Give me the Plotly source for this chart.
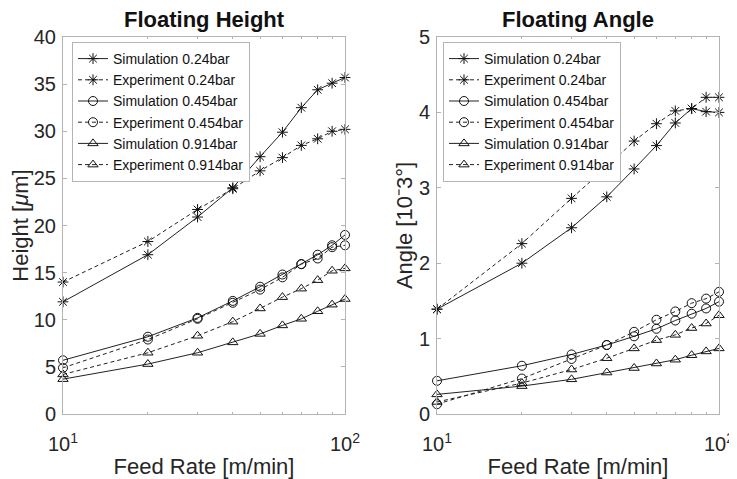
import plotly.graph_objects as go

feed = [10, 20, 30, 40, 50, 60, 70, 80, 90, 100]

height_sim_024 = [11.9, 16.9, 20.9, 24.0, 27.3, 29.9, 32.5, 34.4, 35.1, 35.7]
height_exp_024 = [14.0, 18.3, 21.7, 23.9, 25.8, 27.2, 28.5, 29.2, 30.0, 30.2]
height_sim_0454 = [5.7, 8.2, 10.2, 12.0, 13.5, 14.8, 15.9, 16.9, 17.9, 19.0]
height_exp_0454 = [4.9, 7.9, 10.1, 11.8, 13.2, 14.5, 15.9, 16.5, 17.7, 17.9]
height_sim_0914 = [3.7, 5.3, 6.5, 7.6, 8.5, 9.4, 10.1, 10.9, 11.6, 12.2]
height_exp_0914 = [4.2, 6.5, 8.3, 9.8, 11.2, 12.4, 13.3, 14.2, 15.2, 15.45]

angle_sim_024 = [1.39, 2.0, 2.47, 2.88, 3.25, 3.56, 3.86, 4.05, 4.01, 4.0]
angle_exp_024 = [1.39, 2.26, 2.86, 3.28, 3.62, 3.85, 4.02, 4.05, 4.2, 4.2]
angle_sim_0454 = [0.44, 0.64, 0.79, 0.915, 1.03, 1.13, 1.24, 1.33, 1.40, 1.49]
angle_exp_0454 = [0.13, 0.47, 0.73, 0.915, 1.09, 1.25, 1.36, 1.47, 1.53, 1.62]
angle_sim_0914 = [0.26, 0.37, 0.46, 0.55, 0.61, 0.67, 0.72, 0.78, 0.83, 0.87]
angle_exp_0914 = [0.16, 0.41, 0.59, 0.74, 0.87, 0.98, 1.05, 1.14, 1.2, 1.31]

series_names = ["Simulation 0.24bar", "Experiment 0.24bar",
                "Simulation 0.454bar", "Experiment 0.454bar",
                "Simulation 0.914bar", "Experiment 0.914bar"]
symbols = ["asterisk-open", "asterisk-open", "circle-open", "circle-open",
           "triangle-up-open", "triangle-up-open"]
dashes = ["solid", "4px,3px", "solid", "4px,3px", "solid", "4px,3px"]

height_data = [height_sim_024, height_exp_024, height_sim_0454,
               height_exp_0454, height_sim_0914, height_exp_0914]
angle_data = [angle_sim_024, angle_exp_024, angle_sim_0454,
              angle_exp_0454, angle_sim_0914, angle_exp_0914]

FONT = "Liberation Sans, Arial, Helvetica, sans-serif"
TXT = "#262626"
AX = "#b4b4b4"

fig = go.Figure()

for i in range(6):
    fig.add_trace(go.Scatter(
        x=feed, y=height_data[i], name=series_names[i], mode="lines+markers",
        line=dict(color="#222222", width=1, dash=dashes[i]),
        marker=dict(symbol=symbols[i], size=9, color="#111111",
                    line=dict(width=1, color="#111111")),
        cliponaxis=False, xaxis="x", yaxis="y", legend="legend"))

for i in range(6):
    fig.add_trace(go.Scatter(
        x=feed, y=angle_data[i], name=series_names[i], mode="lines+markers",
        line=dict(color="#222222", width=1, dash=dashes[i]),
        marker=dict(symbol=symbols[i], size=9, color="#111111",
                    line=dict(width=1, color="#111111")),
        cliponaxis=False, xaxis="x2", yaxis="y2", legend="legend2"))

# the page body adds an 8px offset; figure is sized so the page is 737x479
OFF = 8
W, H = 737 - OFF, 479 - OFF
# plot area in page pixels: x 63..719, y 37..414
ML, MT = 63 - OFF, 37 - OFF
MR = W - (719 - OFF)
MB = H - (414 - OFF)
PW = W - ML - MR
PH = H - MT - MB
xd1 = [0, (345 - 63) / PW]
xd2 = [(437 - 63) / PW, 1]

def xaxis_cfg(domain, anchor):
    return dict(
        type="log", domain=domain, anchor=anchor, range=[1, 2], automargin=False,
        tickvals=[10, 100], ticktext=["10<sup>1</sup>", "10<sup>2</sup>"],
        ticks="inside", ticklen=4, tickcolor=AX, showline=True, linecolor=AX,
        linewidth=1, mirror="ticks", showgrid=False, zeroline=False,
        ticklabelstandoff=12, ticklabeloverflow="allow",
        tickfont=dict(family=FONT, size=20, color=TXT),
        minor=dict(tickvals=[20, 30, 40, 50, 60, 70, 80, 90], ticks="inside",
                   ticklen=2, tickcolor=AX, showgrid=False),
        title=dict(text="Feed Rate [m/min]", font=dict(family=FONT, size=22, color=TXT),
                   standoff=11))

def yaxis_cfg(rng, dtick, anchor, title, standoff):
    return dict(
        domain=[0, 1], anchor=anchor, range=rng, dtick=dtick, tick0=0, automargin=False,
        ticks="inside", ticklen=4, tickcolor=AX, showline=True, linecolor=AX,
        linewidth=1, mirror="ticks", showgrid=False, zeroline=False,
        ticklabelstandoff=2, ticklabeloverflow="allow",
        tickfont=dict(family=FONT, size=20, color=TXT),
        title=dict(text=title, font=dict(family=FONT, size=22, color=TXT), standoff=standoff))

legend_common = dict(
    bgcolor="white", bordercolor="#b4b4b4", borderwidth=1,
    font=dict(family=FONT, size=14, color="#111111"),
    xanchor="left", yanchor="top", tracegroupgap=0, itemwidth=30)

title_y = 1 + (37 - 20) / PH

fig.update_layout(
    width=W, height=H,
    margin=dict(l=ML, r=MR, t=MT, b=MB, autoexpand=False),
    paper_bgcolor="white", plot_bgcolor="white",
    xaxis=xaxis_cfg(xd1, "y"),
    yaxis=yaxis_cfg([0, 40], 5, "x", "Height [<i>μ</i>m]", 0),
    xaxis2=xaxis_cfg(xd2, "y2"),
    yaxis2=yaxis_cfg([0, 5], 1, "x2", "Angle [10⁻3°]", 0),
    legend=dict(x=(72 - 63) / PW, y=1 - (42 - 37) / PH, **legend_common),
    legend2=dict(x=(443 - 63) / PW, y=1 - (42 - 37) / PH, **legend_common),
    annotations=[
        dict(text="<b>Floating Height</b>", x=(xd1[0] + xd1[1]) / 2, y=title_y,
             xref="paper", yref="paper", xanchor="center", yanchor="middle",
             showarrow=False, font=dict(family=FONT, size=22, color="#111111")),
        dict(text="<b>Floating Angle</b>", x=(xd2[0] + xd2[1]) / 2, y=title_y,
             xref="paper", yref="paper", xanchor="center", yanchor="middle",
             showarrow=False, font=dict(family=FONT, size=22, color="#111111")),
    ],
)

fig.write_html("out.html")
